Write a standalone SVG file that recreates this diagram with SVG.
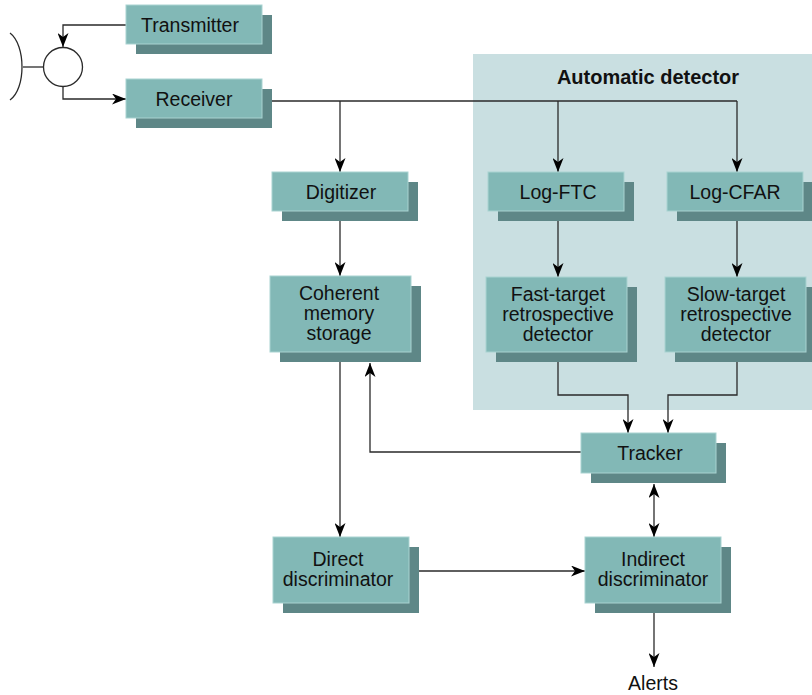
<svg xmlns="http://www.w3.org/2000/svg" width="812" height="695" viewBox="0 0 812 695">
<style>
.fr{fill:#82b8b6;stroke:#a9d3d1;stroke-width:1}
.sh{fill:#5e8787}
.t{font-family:"Liberation Sans",Arial,sans-serif;font-size:19.5px;fill:#111;text-anchor:middle}
.b{font-weight:bold;font-size:20px}
.c{fill:none;stroke:#2a2a2a;stroke-width:1.3}
</style>
<defs>
<marker id="ah" viewBox="0 0 14 11" refX="14" refY="5.5" markerWidth="14" markerHeight="11" markerUnits="userSpaceOnUse" orient="auto-start-reverse">
<path d="M0,0 L14,5.5 L0,11 L4,5.5 z" fill="#000"/>
</marker>
</defs>
<rect id="auto-bg" x="473" y="54" width="339" height="356" fill="#c9dfe1"/>
<text class="t b" x="648" y="84">Automatic detector</text>
<g id="antenna">
<path class="c" d="M10,33 C26,45 26,89 10,100"/>
<line class="c" x1="23" y1="67" x2="44" y2="67"/>
<circle cx="63" cy="67" r="19.5" fill="#fff" stroke="#2a2a2a" stroke-width="1.3"/>
</g>
<g id="connectors">
<path class="c" d="M126,25 H63 V47" marker-end="url(#ah)"/>
<path class="c" d="M63,87 V99 H126" marker-end="url(#ah)"/>
<path class="c" d="M262,101 H737"/>
<path class="c" d="M340,101 V172" marker-end="url(#ah)"/>
<path class="c" d="M558,101 V172" marker-end="url(#ah)"/>
<path class="c" d="M737,101 V172" marker-end="url(#ah)"/>
<path class="c" d="M340,221 V276" marker-end="url(#ah)"/>
<path class="c" d="M558,221 V277" marker-end="url(#ah)"/>
<path class="c" d="M737,221 V277" marker-end="url(#ah)"/>
<path class="c" d="M558,362 V395 H628 V433" marker-end="url(#ah)"/>
<path class="c" d="M737,362 V395 H668 V433" marker-end="url(#ah)"/>
<path class="c" d="M581,452 H370 V363" marker-end="url(#ah)"/>
<path class="c" d="M340,362 V537" marker-end="url(#ah)"/>
<path class="c" d="M654,484 V537" marker-start="url(#ah)" marker-end="url(#ah)"/>
<path class="c" d="M419,571 H585" marker-end="url(#ah)"/>
<path class="c" d="M654,613 V667" marker-end="url(#ah)"/>
</g>
<g id="transmitter">
<rect class="sh" x="136" y="15" width="136" height="39"/>
<rect class="fr" x="126" y="5" width="136" height="39"/>
<text class="t" x="190" y="32">Transmitter</text>
</g>
<g id="receiver">
<rect class="sh" x="136" y="89" width="136" height="39"/>
<rect class="fr" x="126" y="79" width="136" height="39"/>
<text class="t" x="194" y="106">Receiver</text>
</g>
<g id="digitizer">
<rect class="sh" x="282" y="182" width="136" height="39"/>
<rect class="fr" x="272" y="172" width="136" height="39"/>
<text class="t" x="341" y="199">Digitizer</text>
</g>
<g id="log-ftc">
<rect class="sh" x="498" y="182" width="136" height="39"/>
<rect class="fr" x="488" y="172" width="136" height="39"/>
<text class="t" x="558" y="199">Log-FTC</text>
</g>
<g id="log-cfar">
<rect class="sh" x="677" y="182" width="136" height="39"/>
<rect class="fr" x="667" y="172" width="136" height="39"/>
<text class="t" x="735" y="199">Log-CFAR</text>
</g>
<g id="coherent">
<rect class="sh" x="280" y="286" width="141" height="76"/>
<rect class="fr" x="270" y="276" width="141" height="76"/>
<text class="t" x="339" y="299.5">Coherent</text>
<text class="t" x="339" y="319.5">memory</text>
<text class="t" x="339" y="339.5">storage</text>
</g>
<g id="fast-target">
<rect class="sh" x="496" y="287" width="141" height="75"/>
<rect class="fr" x="486" y="277" width="141" height="75"/>
<text class="t" x="558" y="300.5">Fast-target</text>
<text class="t" x="558" y="320.5">retrospective</text>
<text class="t" x="558" y="340.5">detector</text>
</g>
<g id="slow-target">
<rect class="sh" x="675" y="287" width="141" height="75"/>
<rect class="fr" x="665" y="277" width="141" height="75"/>
<text class="t" x="736" y="300.5">Slow-target</text>
<text class="t" x="736" y="320.5">retrospective</text>
<text class="t" x="736" y="340.5">detector</text>
</g>
<g id="tracker">
<rect class="sh" x="591" y="443" width="135" height="40"/>
<rect class="fr" x="581" y="433" width="135" height="40"/>
<text class="t" x="650" y="460">Tracker</text>
</g>
<g id="direct">
<rect class="sh" x="283" y="547" width="136" height="66"/>
<rect class="fr" x="273" y="537" width="136" height="66"/>
<text class="t" x="338" y="565.5">Direct</text>
<text class="t" x="338" y="585.5">discriminator</text>
</g>
<g id="indirect">
<rect class="sh" x="595" y="547" width="136" height="66"/>
<rect class="fr" x="585" y="537" width="136" height="66"/>
<text class="t" x="653" y="566">Indirect</text>
<text class="t" x="653" y="586">discriminator</text>
</g>
<g id="alerts">
<text class="t" x="653" y="690">Alerts</text>
</g>
</svg>
